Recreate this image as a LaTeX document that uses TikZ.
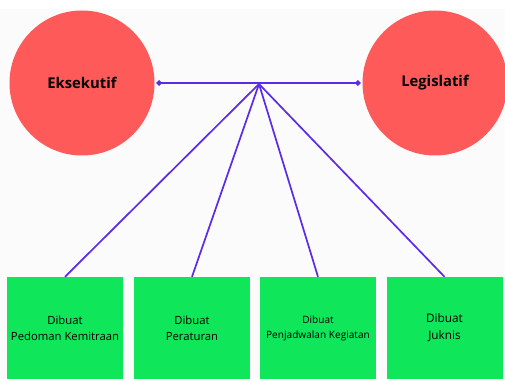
\documentclass[tikz,border=0pt]{standalone}
\usepackage{fontspec}
\setmainfont{Open Sans}
\usepackage{xcolor}
\definecolor{colorCircle}{HTML}{FF5A5A}
\definecolor{colorBox}{HTML}{10E65A}
\definecolor{colorLink}{HTML}{5B2BE8}
\definecolor{colorBack}{HTML}{FBFBFB}
\usetikzlibrary{arrows.meta, positioning}
\tikzset{
  lembaga/.style={circle, fill=colorCircle, minimum size=145pt, inner sep=0pt, font=\bfseries\fontsize{14.8}{17}\selectfont},
  tugas/.style={rectangle, fill=colorBox, minimum width=116pt, minimum height=102pt, inner sep=0pt, align=center, font=\fontsize{11.3}{16}\selectfont},
  link/.style={colorLink, line width=1.7pt}
}

\begin{document}
\begin{tikzpicture}[x=1pt, y=-1pt]
\useasboundingbox (0,0) rectangle (505,379);
\fill[colorBack] (0,9) rectangle (505,379);
\node[lembaga] (eks) at (82,83) {Eksekutif};
\node[lembaga] (leg) at (435,83) {Legislatif};
\coordinate (hub) at (259,84);
\node[tugas] (t1) at (65,328) {Dibuat\\Pedoman Kemitraan};
\node[tugas] (t2) at (192,328) {Dibuat\\Peraturan};
\node[tugas, font=\fontsize{10.1}{15}\selectfont] (t3) at (318,328) {Dibuat\\Penjadwalan Kegiatan};
\node[tugas, font=\fontsize{11.8}{17}\selectfont] (t4) at (444.5,328) {Dibuat\\Juknis};
\draw[link, {Diamond[length=6pt, width=6pt]}-{Diamond[length=6pt, width=6pt]}, shorten <=1.5pt, shorten >=1.5pt] (eks.east) -- (leg.west);
% garis ke kotak tugas
\foreach \t in {t1, t2, t3, t4}
  \draw[link] (hub) -- (\t.north);
\end{tikzpicture}
\end{document}
